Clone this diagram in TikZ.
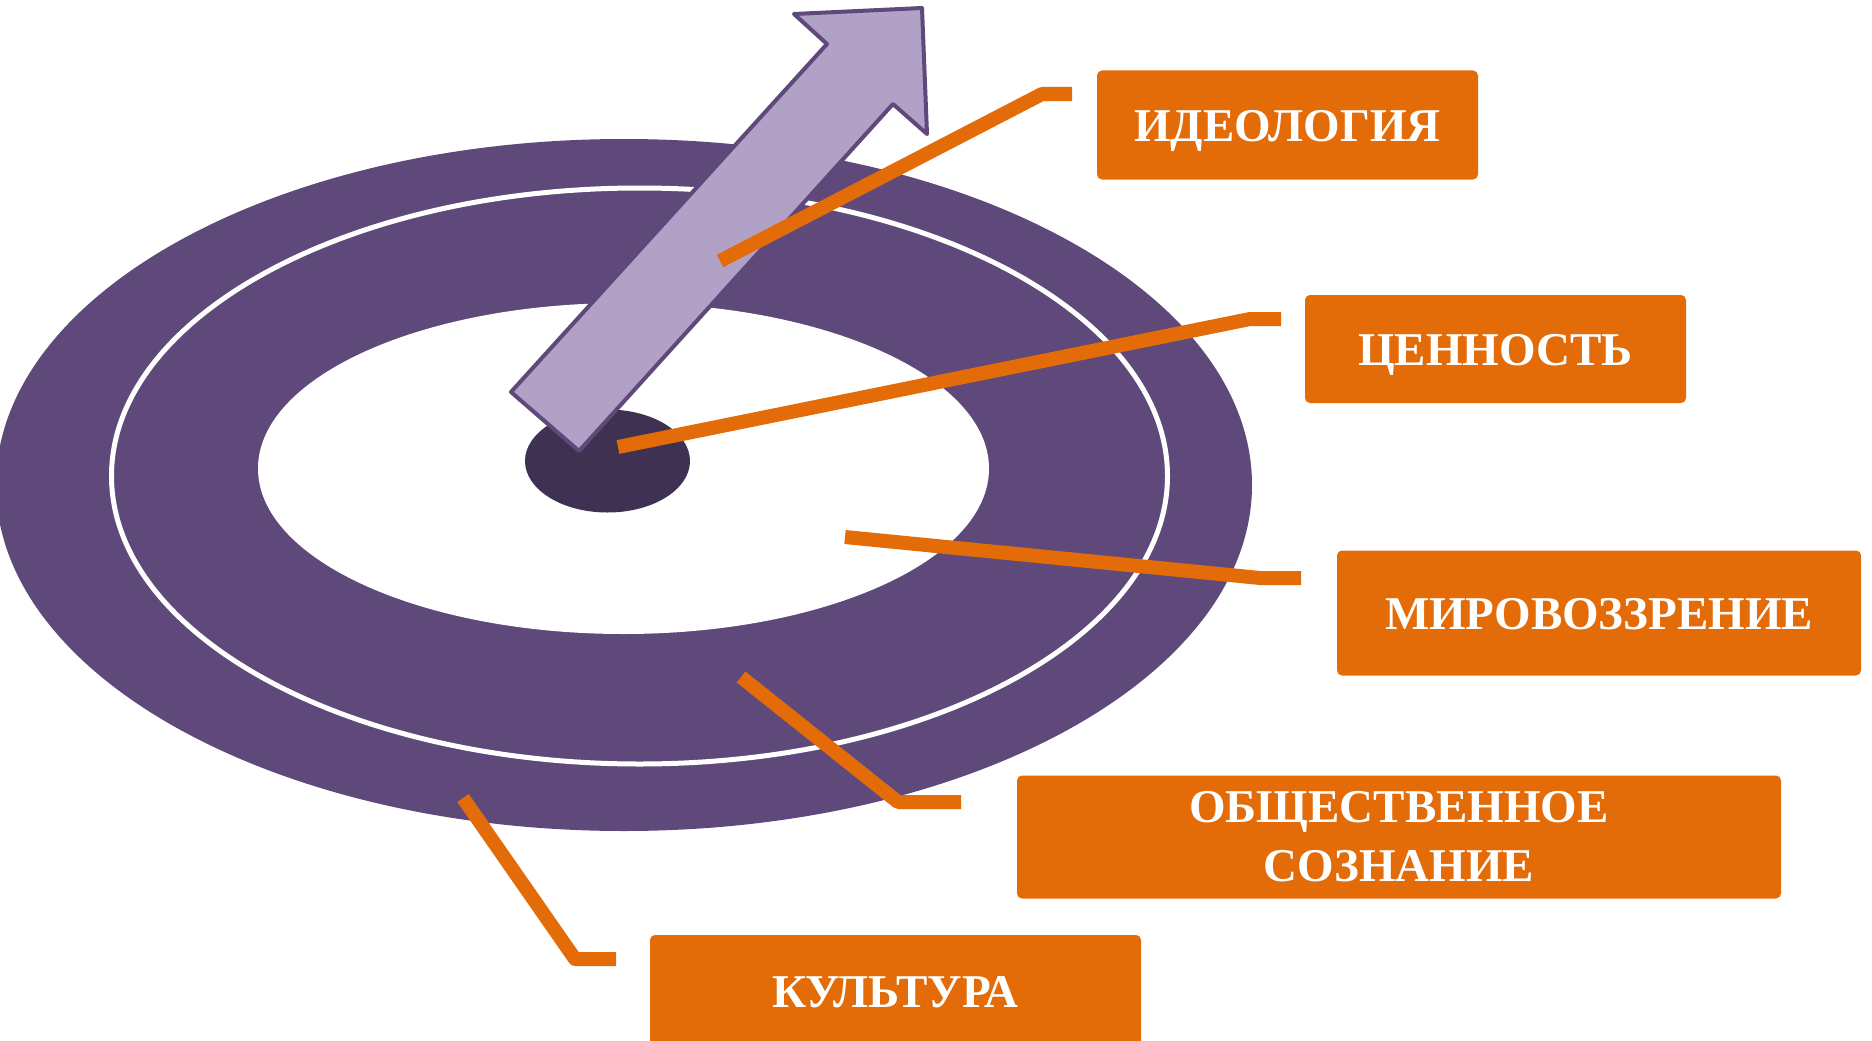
\documentclass[tikz,border=0pt]{standalone}
\usepackage{fontspec}
\setmainfont{Liberation Serif}
\definecolor{ringpurple}{HTML}{5F497A}
\definecolor{darkpurple}{HTML}{3F3151}
\definecolor{lightpurple}{HTML}{B2A1C7}
\definecolor{boxorange}{HTML}{E36C09}
\tikzset{
  labelbox/.style={fill=boxorange, rounded corners=5, text=white, inner sep=0,
    font=\fontsize{47}{59}\selectfont\bfseries, align=center},
  oneline/.style={text height=32, text depth=0},
  leader/.style={draw=boxorange, line width=14, line cap=butt, line join=round},
  bigarrow/.style={fill=lightpurple, draw=ringpurple, line width=4, line join=round}
}
\begin{document}
\begin{tikzpicture}[x=1pt, y=-1pt]
\useasboundingbox (0,0) rectangle (1872,1041);
\clip (0,0) rectangle (1872,1041);
\fill[white] (0,0) rectangle (1872,1041);
% target rings
\fill[ringpurple] (624,485) ellipse [x radius=628, y radius=346];
\draw[white, line width=5] (639.5,476) ellipse [x radius=528, y radius=288];
\fill[white] (623.5,468.5) ellipse [x radius=365.5, y radius=165.5];
\fill[darkpurple] (607.5,461) ellipse [x radius=82.5, y radius=51.5];
% big arrow
\draw[bigarrow] (511,392) -- (827,44) -- (794,14) -- (922,8) -- (927,134)
  -- (893,104) -- (579,451) -- cycle;
% label boxes
\node[labelbox, oneline, minimum width=381, minimum height=109] (ideo) at (1287.5,125) {ИДЕОЛОГИЯ};
\node[labelbox, oneline, minimum width=381, minimum height=108] (cen) at (1495.5,349) {ЦЕННОСТЬ};
\node[labelbox, oneline, minimum width=524, minimum height=125] (mir) at (1599,613) {МИРОВОЗЗРЕНИЕ};
\node[labelbox, minimum width=764, minimum height=123] (obs) at (1399,837)
  {\raisebox{-3.5pt}[\height][\depth]{\begin{tabular}{@{}c@{}}ОБЩЕСТВЕННОЕ\\СОЗНАНИЕ\end{tabular}}};
\node[labelbox, oneline, minimum width=491, minimum height=113] (kul) at (895.5,991.5) {КУЛЬТУРА};
% leader coordinates
\coordinate (i0) at (720,261);  \coordinate (i1) at (1042,94);  \coordinate (i2) at (1072,94);
\coordinate (c0) at (618,447);  \coordinate (c1) at (1250,319); \coordinate (c2) at (1281,319);
\coordinate (m0) at (845,537);  \coordinate (m1) at (1260,578); \coordinate (m2) at (1301,578);
\coordinate (o0) at (741,677);  \coordinate (o1) at (898,802);  \coordinate (o2) at (961,802);
\coordinate (k0) at (463,798);  \coordinate (k1) at (575,959);  \coordinate (k2) at (616,959);
% leaders
\draw[leader] (i0) -- (i1) -- (i2);
\draw[leader] (c0) -- (c1) -- (c2);
\draw[leader] (m0) -- (m1) -- (m2);
\draw[leader] (o0) -- (o1) -- (o2);
\draw[leader] (k0) -- (k1) -- (k2);
\end{tikzpicture}
\end{document}
